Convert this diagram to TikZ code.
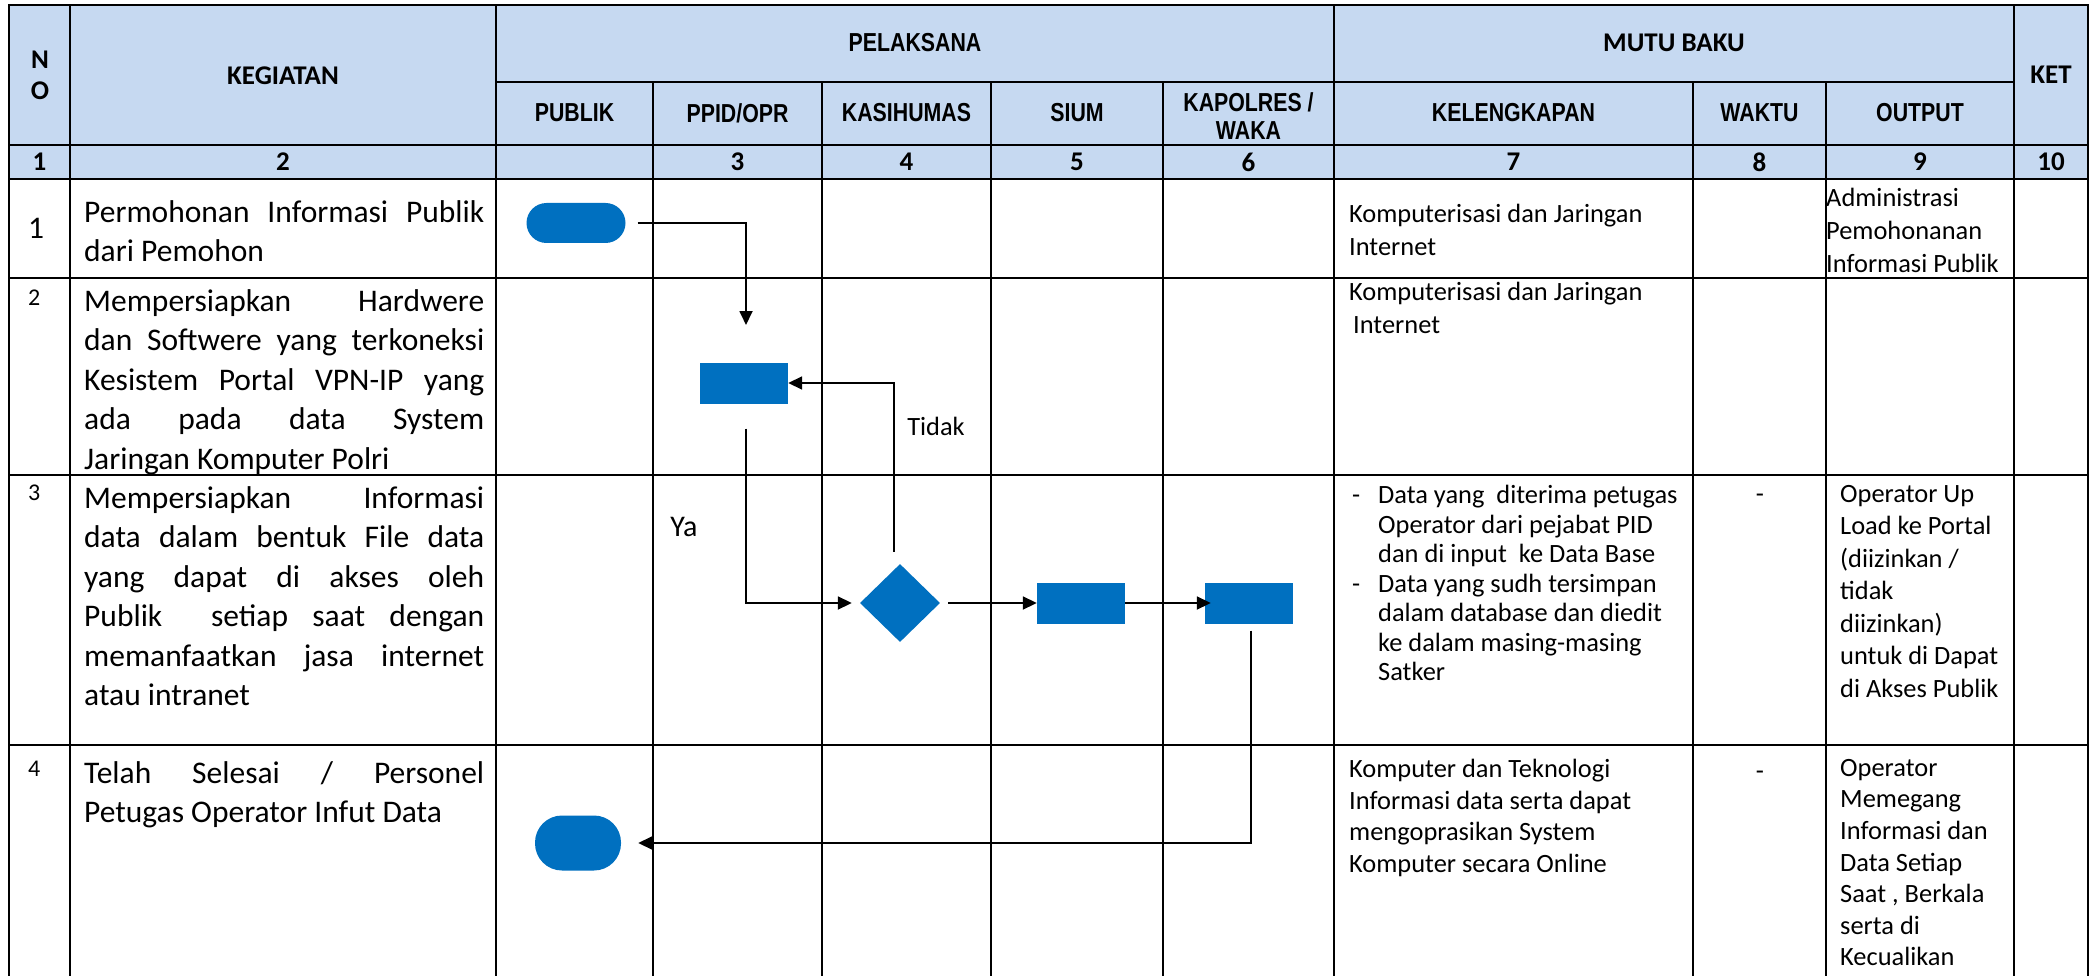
\documentclass[tikz,border=0pt]{standalone}
\usepackage{fontspec}
\setmainfont{Carlito}
\newfontfamily\narrowfont[FakeStretch=0.82]{Liberation Sans}
\usetikzlibrary{arrows.meta, shapes.geometric, positioning, calc}
\definecolor{hdrblue}{HTML}{C6D9F1}
\definecolor{shpblue}{HTML}{0070C0}
\newcommand{\kegfont}{\fontsize{31.5}{39.5}\selectfont}
\newcommand{\isi}[1]{\fontsize{26.4}{#1}\selectfont}
\newcommand{\judulfont}{\bfseries\fontsize{27}{31}\selectfont}
\newcommand{\sempitfont}{\narrowfont\bfseries\fontsize{26}{28}\selectfont}
\tolerance=9999
\hbadness=10000

\begin{document}
\begin{tikzpicture}[x=1pt, y=-1pt, >={Triangle[length=14pt,width=13pt]},
    proses/.style={rectangle, fill=shpblue, minimum width=88pt, minimum height=41pt, inner sep=0pt},
    terminal/.style={rectangle, fill=shpblue, inner sep=0pt},
    alur/.style={->, line width=1.8pt},
    garis/.style={line width=2.2pt},
    tipis/.style={line width=1.5pt},
    judul/.style={font=\judulfont, align=center, inner sep=0pt},
    sempit/.style={font=\sempitfont, align=center, inner sep=0pt},
    kegiatan/.style={anchor=north west, inner sep=0pt, text width=400pt, align=justify, font=\kegfont},
    sel/.style={anchor=north west, inner sep=0pt, align=left, font=\isi{#1}},
    sel/.default=30]

    \fill[white] (0,0) rectangle (2098,976);
    \useasboundingbox (0,0) rectangle (2098,976);
    \fill[hdrblue] (9,5) rectangle (2088,179);

    \draw[garis] (9,976) -- (9,5) -- (2088,5) -- (2088,976);
    \draw[garis] (496,82) -- (2014,82);
    \foreach \y in {145,179,278,475,745} \draw[garis] (9,\y) -- (2088,\y);
    \foreach \x in {70,496,1334,2014} \draw[garis] (\x,5) -- (\x,179);
    \foreach \x in {653,822,991,1163,1693,1826} \draw[garis] (\x,82) -- (\x,179);
    \foreach \x in {70,496,653,822,991,1163,1334,1693,1826,2014} \draw[tipis] (\x,179) -- (\x,976);

    \node[judul] (hno) at (40,75) {N\\O};
    \node[judul] (hkeg) at (283,76) {KEGIATAN};
    \node[sempit] (hpel) at (915,43) {PELAKSANA};
    \node[judul] (hmutu) at (1674,43) {MUTU BAKU};
    \node[judul] (hket) at (2051,75) {KET};
    \node[sempit] (hpub) at (574.5,113) {PUBLIK};
    \node[sempit] (hppid) at (737.5,113) {PPID/OPR};
    \node[sempit] (hkasi) at (906.5,113) {KASIHUMAS};
    \node[sempit] (hsium) at (1077,113) {SIUM};
    \node[sempit] (hkap) at (1248.5,116) {KAPOLRES /\\WAKA};
    \node[sempit] (hkel) at (1513.5,113) {KELENGKAPAN};
    \node[sempit] (hwaktu) at (1759.5,113) {WAKTU};
    \node[sempit] (hout) at (1920,113) {OUTPUT};
    \foreach \x/\t in {39.5/1, 283/2, 737.5/3, 906.5/4, 1077/5, 1248.5/6, 1513.5/7, 1759.5/8, 1920/9, 2051/10}
        \node[judul] (nr\t) at (\x,162) {\t};

    \node[anchor=west, inner sep=0pt, font=\kegfont] (n1) at (28,228) {1};
    \node[anchor=north west, inner sep=0pt, font=\fontsize{24}{28}\selectfont] (n2) at (28,290) {2};
    \node[anchor=north west, inner sep=0pt, font=\fontsize{24}{28}\selectfont] (n3) at (28,485) {3};
    \node[anchor=north west, inner sep=0pt, font=\fontsize{24}{28}\selectfont] (n4) at (28,761) {4};

    \node[kegiatan] (k1) at (84,200) {Permohonan Informasi Publik\linebreak dari Pemohon};
    \node[kegiatan] (k2) at (84,289) {Mempersiapkan Hardwere\linebreak dan Softwere yang terkoneksi\linebreak Kesistem Portal VPN-IP yang\linebreak ada pada data System\linebreak Jaringan Komputer Polri};
    \node[kegiatan] (k3) at (84,486) {Mempersiapkan Informasi\linebreak data dalam bentuk File data\linebreak yang dapat di akses oleh\linebreak Publik\ \ setiap saat dengan\linebreak memanfaatkan jasa internet\linebreak atau intranet};
    \node[kegiatan] (k4) at (84,761) {Telah Selesai / Personel\linebreak Petugas Operator Infut Data};

    \node[sel=33] (l1) at (1349,204) {Komputerisasi dan Jaringan\\Internet};
    \node[sel=33] (l2) at (1349,282) {Komputerisasi dan Jaringan\\\hspace*{4pt}Internet};
    \node[sel=29.5] (l3) at (1352,485) {\makebox[26pt][l]{-}Data yang\ \ diterima petugas\\\hspace*{26pt}Operator dari pejabat PID\\\hspace*{26pt}dan di input\ \ ke Data Base\\\makebox[26pt][l]{-}Data yang sudh tersimpan\\\hspace*{26pt}dalam database dan diedit\\\hspace*{26pt}ke dalam masing-masing\\\hspace*{26pt}Satker};
    \node[sel=31.6] (l4) at (1349,759) {Komputer dan Teknologi\\Informasi data serta dapat\\mengoprasikan System\\Komputer secara Online};
    \node[font=\isi{30}, inner sep=0pt] (w3) at (1760,498) {-};
    \node[font=\isi{30}, inner sep=0pt] (w4) at (1760,775) {-};
    \node[sel=33] (o1) at (1826,188) {Administrasi\\Pemohonanan\\Informasi Publik};
    \node[sel=32.5] (o3) at (1840,485) {Operator Up\\Load ke Portal\\(diizinkan /\\tidak\\diizinkan)\\untuk di Dapat\\di Akses Publik};
    \node[sel=31.6] (o4) at (1840,759) {Operator\\Memegang\\Informasi dan\\Data Setiap\\Saat , Berkala\\serta di\\Kecualikan};

    \node[terminal, rounded corners=20pt, minimum width=99pt, minimum height=40pt] (mulai) at (576,223) {};
    \node[proses] (siap) at (744,383) {};
    \node[diamond, fill=shpblue, minimum width=80pt, minimum height=78pt, inner sep=0pt] (cek) at (900,603) {};
    \node[proses] (unggah) at (1081,603) {};
    \node[proses] (sahkan) at (1249,603) {};
    \node[terminal, rounded corners=27pt, minimum width=86pt, minimum height=55pt] (selesai) at (578,843) {};

    \coordinate (masuk) at (746,325);
    \draw[alur] ($(mulai.east)+(12,0)$) -| (masuk);
    \draw[alur, shorten >=8pt] ($(siap.south)+(2,25)$) |- (cek.west);
    \draw[alur] ($(cek.north)+(-6,-12)$) |- (siap.east);
    \draw[alur] ($(cek.east)+(8,0)$) -- (unggah.west);
    \draw[alur] (unggah.east) -- ($(sahkan.west)+(6,0)$);
    \draw[alur, shorten >=17pt] ($(sahkan.south)+(2,7)$) |- (selesai.east);

    \node[font=\isi{30}] (tidak) at (936,426) {Tidak};
    \node[font=\fontsize{30}{34}\selectfont] (ya) at (684,527) {Ya};
\end{tikzpicture}
\end{document}
